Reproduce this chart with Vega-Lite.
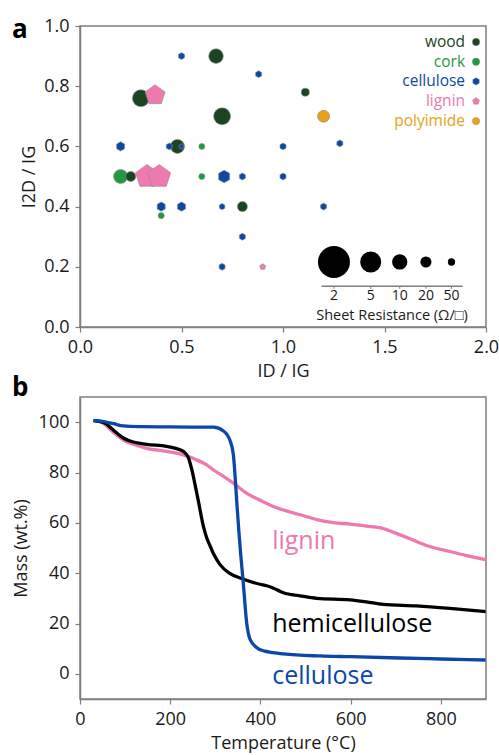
{
  "$schema": "https://vega.github.io/schema/vega-lite/v6.json",
  "background": "white",
  "padding": {"left": 11, "top": 16, "right": 0, "bottom": 0},
  "bounds": "flush",
  "spacing": 70,
  "resolve": {"scale": {"color": "independent", "x": "independent", "y": "independent"}},
  "config": {
    "font": "Open Sans",
    "view": {"stroke": "#7f7f7f", "strokeWidth": 1.5},
    "axis": {
      "grid": false,
      "domainColor": "#7f7f7f",
      "domainWidth": 1.5,
      "tickColor": "#7f7f7f",
      "tickWidth": 1.2,
      "tickSize": 5,
      "labelFontSize": 18,
      "titleFontSize": 18,
      "titleFontWeight": "normal",
      "labelColor": "#1a1a1a",
      "titleColor": "#1a1a1a",
      "labelPadding": 6,
      "labelFlush": false,
      "labelOverlap": false
    },
    "title": {
      "fontSize": 26,
      "fontWeight": "bold",
      "anchor": "start",
      "frame": "group",
      "offset": 0,
      "baseline": "alphabetic",
      "color": "#000000",
      "dx": -68
    }
  },
  "vconcat": [
    {
      "width": 406,
      "height": 301,
      "title": {"text": "a", "dy": 30},
      "layer": [
        {
          "data": {
            "values": [
              {"material": "cork", "ID_IG": 0.2, "I2D_IG": 0.5, "R": 12},
              {"material": "cork", "ID_IG": 0.6, "I2D_IG": 0.6, "R": 75},
              {"material": "cork", "ID_IG": 0.6, "I2D_IG": 0.5, "R": 75},
              {"material": "cork", "ID_IG": 0.4, "I2D_IG": 0.37, "R": 75},
              {"material": "wood", "ID_IG": 0.67, "I2D_IG": 0.9, "R": 11},
              {"material": "wood", "ID_IG": 0.3, "I2D_IG": 0.76, "R": 8},
              {"material": "wood", "ID_IG": 1.11, "I2D_IG": 0.78, "R": 40},
              {"material": "wood", "ID_IG": 0.7, "I2D_IG": 0.7, "R": 8},
              {"material": "wood", "ID_IG": 0.48, "I2D_IG": 0.6, "R": 12},
              {"material": "wood", "ID_IG": 0.25, "I2D_IG": 0.5, "R": 25},
              {"material": "wood", "ID_IG": 0.8, "I2D_IG": 0.4, "R": 25},
              {"material": "cellulose", "ID_IG": 0.5, "I2D_IG": 0.9, "R": 56},
              {"material": "cellulose", "ID_IG": 0.88, "I2D_IG": 0.84, "R": 56},
              {"material": "cellulose", "ID_IG": 0.2, "I2D_IG": 0.6, "R": 30},
              {"material": "cellulose", "ID_IG": 0.44, "I2D_IG": 0.6, "R": 56},
              {"material": "cellulose", "ID_IG": 0.5, "I2D_IG": 0.6, "R": 95},
              {"material": "cellulose", "ID_IG": 1.0, "I2D_IG": 0.6, "R": 56},
              {"material": "cellulose", "ID_IG": 1.28, "I2D_IG": 0.61, "R": 56},
              {"material": "cellulose", "ID_IG": 0.71, "I2D_IG": 0.5, "R": 15},
              {"material": "cellulose", "ID_IG": 0.8, "I2D_IG": 0.5, "R": 56},
              {"material": "cellulose", "ID_IG": 1.0, "I2D_IG": 0.5, "R": 56},
              {"material": "cellulose", "ID_IG": 0.4, "I2D_IG": 0.4, "R": 30},
              {"material": "cellulose", "ID_IG": 0.5, "I2D_IG": 0.4, "R": 30},
              {"material": "cellulose", "ID_IG": 0.7, "I2D_IG": 0.4, "R": 70},
              {"material": "cellulose", "ID_IG": 1.2, "I2D_IG": 0.4, "R": 56},
              {"material": "cellulose", "ID_IG": 0.8, "I2D_IG": 0.3, "R": 56},
              {"material": "cellulose", "ID_IG": 0.7, "I2D_IG": 0.2, "R": 56},
              {"material": "lignin", "ID_IG": 0.37, "I2D_IG": 0.77, "R": 5},
              {"material": "lignin", "ID_IG": 0.33, "I2D_IG": 0.5, "R": 3.7},
              {"material": "lignin", "ID_IG": 0.39, "I2D_IG": 0.5, "R": 3.7},
              {"material": "lignin", "ID_IG": 0.9, "I2D_IG": 0.2, "R": 68},
              {"material": "polyimide", "ID_IG": 1.2, "I2D_IG": 0.7, "R": 17}
            ]
          },
          "mark": {"type": "point", "filled": true, "opacity": 1, "stroke": "#8a8a8a", "strokeWidth": 0.6},
          "encoding": {
            "x": {
              "field": "ID_IG", "type": "quantitative",
              "scale": {"domain": [0, 2], "nice": false, "zero": false},
              "axis": {"title": "ID / IG", "values": [0, 0.5, 1, 1.5, 2], "format": ".1f", "titlePadding": 6}
            },
            "y": {
              "field": "I2D_IG", "type": "quantitative",
              "scale": {"domain": [0, 1], "nice": false, "zero": false},
              "axis": {"title": "I2D / IG", "values": [0, 0.2, 0.4, 0.6, 0.8, 1.0], "format": ".1f", "titlePadding": 5}
            },
            "size": {
              "field": "R", "type": "quantitative",
              "scale": {"type": "pow", "exponent": -0.92, "domain": [2, 50], "range": [1024, 53], "zero": false},
              "legend": null
            },
            "color": {
              "field": "material", "type": "nominal",
              "scale": {"domain": ["wood", "cork", "cellulose", "lignin", "polyimide"], "range": ["#1b4422", "#1f9a41", "#0b49a3", "#ef7ab0", "#e9a116"]},
              "legend": null
            },
            "shape": {
              "field": "material", "type": "nominal",
              "scale": {"domain": ["wood", "cork", "cellulose", "lignin", "polyimide"], "range": ["circle", "circle", "M0,-1L0.866,-0.5L0.866,0.5L0,1L-0.866,0.5L-0.866,-0.5Z", "M0,-1L0.951,-0.309L0.588,0.809L-0.588,0.809L-0.951,-0.309Z", "circle"]},
              "legend": null
            }
          }
        },
        {
          "data": {
            "values": [
              {"material": "wood", "lx": 1.951, "ly": 0.947},
              {"material": "cork", "lx": 1.951, "ly": 0.881},
              {"material": "cellulose", "lx": 1.951, "ly": 0.816},
              {"material": "lignin", "lx": 1.951, "ly": 0.75},
              {"material": "polyimide", "lx": 1.951, "ly": 0.684}
            ]
          },
          "layer": [
            {
              "mark": {"type": "text", "align": "right", "baseline": "middle", "fontSize": 15.5, "dx": -11},
              "encoding": {
                "x": {"field": "lx", "type": "quantitative"},
                "y": {"field": "ly", "type": "quantitative"},
                "text": {"field": "material"},
                "color": {"field": "material", "type": "nominal"}
              }
            },
            {
              "mark": {"type": "point", "filled": true, "opacity": 1, "size": 55, "stroke": "#8a8a8a", "strokeWidth": 0.4},
              "encoding": {
                "x": {"field": "lx", "type": "quantitative"},
                "y": {"field": "ly", "type": "quantitative"},
                "color": {"field": "material", "type": "nominal"},
                "shape": {"field": "material", "type": "nominal"}
              }
            }
          ]
        },
        {
          "data": {
            "values": [
              {"R": 2, "sx": 1.251},
              {"R": 5, "sx": 1.432},
              {"R": 10, "sx": 1.575},
              {"R": 20, "sx": 1.704},
              {"R": 50, "sx": 1.83}
            ]
          },
          "layer": [
            {
              "mark": {"type": "point", "filled": true, "opacity": 1, "shape": "circle", "color": "#000000"},
              "encoding": {
                "x": {"field": "sx", "type": "quantitative"},
                "y": {"datum": 0.216},
                "size": {"field": "R", "type": "quantitative"}
              }
            },
            {
              "mark": {"type": "rule", "color": "#7f7f7f", "strokeWidth": 1},
              "encoding": {
                "x": {"field": "sx", "type": "quantitative"},
                "y": {"datum": 0.135},
                "y2": {"datum": 0.127}
              }
            },
            {
              "mark": {"type": "text", "align": "center", "baseline": "middle", "fontSize": 14, "color": "#1a1a1a", "dy": 34},
              "encoding": {
                "x": {"field": "sx", "type": "quantitative"},
                "y": {"datum": 0.216},
                "text": {"field": "R"}
              }
            }
          ]
        },
        {
          "data": {"values": [{"title": "Sheet Resistance (Ω/□)"}]},
          "layer": [
            {
              "mark": {"type": "rule", "color": "#7f7f7f", "strokeWidth": 1.5},
              "encoding": {
                "x": {"datum": 1.19},
                "x2": {"datum": 1.885},
                "y": {"datum": 0.135}
              }
            },
            {
              "mark": {"type": "text", "align": "center", "baseline": "middle", "fontSize": 14.5, "color": "#1a1a1a"},
              "encoding": {
                "x": {"datum": 1.537},
                "y": {"datum": 0.037},
                "text": {"field": "title"}
              }
            }
          ]
        }
      ]
    },
    {
      "width": 406,
      "height": 302,
      "title": {"text": "b", "dy": 8},
      "layer": [
        {
          "data": {
            "values": [
              {"series": "lignin", "T": 30, "mass": 100.6},
              {"series": "lignin", "T": 45, "mass": 100.2},
              {"series": "lignin", "T": 59, "mass": 98.5},
              {"series": "lignin", "T": 74, "mass": 96},
              {"series": "lignin", "T": 89, "mass": 93.8},
              {"series": "lignin", "T": 100, "mass": 92.5},
              {"series": "lignin", "T": 118, "mass": 91.2},
              {"series": "lignin", "T": 148, "mass": 89.6},
              {"series": "lignin", "T": 192, "mass": 88.4},
              {"series": "lignin", "T": 229, "mass": 87},
              {"series": "lignin", "T": 259, "mass": 85},
              {"series": "lignin", "T": 281, "mass": 83},
              {"series": "lignin", "T": 296, "mass": 81},
              {"series": "lignin", "T": 318, "mass": 78.5},
              {"series": "lignin", "T": 340, "mass": 75.8},
              {"series": "lignin", "T": 369, "mass": 71.8},
              {"series": "lignin", "T": 399, "mass": 69},
              {"series": "lignin", "T": 436, "mass": 66},
              {"series": "lignin", "T": 488, "mass": 63.2},
              {"series": "lignin", "T": 525, "mass": 61.3},
              {"series": "lignin", "T": 562, "mass": 60.1},
              {"series": "lignin", "T": 599, "mass": 59.5},
              {"series": "lignin", "T": 635, "mass": 58.7},
              {"series": "lignin", "T": 665, "mass": 58.1},
              {"series": "lignin", "T": 694, "mass": 56.3},
              {"series": "lignin", "T": 731, "mass": 53.7},
              {"series": "lignin", "T": 768, "mass": 51},
              {"series": "lignin", "T": 820, "mass": 48.6},
              {"series": "lignin", "T": 857, "mass": 47},
              {"series": "lignin", "T": 899, "mass": 45.4},
              {"series": "hemicellulose", "T": 30, "mass": 100.6},
              {"series": "hemicellulose", "T": 45, "mass": 100.2},
              {"series": "hemicellulose", "T": 59, "mass": 99.2},
              {"series": "hemicellulose", "T": 70, "mass": 97.5},
              {"series": "hemicellulose", "T": 81, "mass": 95.8},
              {"series": "hemicellulose", "T": 96, "mass": 93.7},
              {"series": "hemicellulose", "T": 111, "mass": 92.5},
              {"series": "hemicellulose", "T": 148, "mass": 91.2},
              {"series": "hemicellulose", "T": 192, "mass": 90.4},
              {"series": "hemicellulose", "T": 214, "mass": 89.5},
              {"series": "hemicellulose", "T": 229, "mass": 88.4},
              {"series": "hemicellulose", "T": 240, "mass": 86},
              {"series": "hemicellulose", "T": 248, "mass": 81},
              {"series": "hemicellulose", "T": 255, "mass": 75.2},
              {"series": "hemicellulose", "T": 262, "mass": 69},
              {"series": "hemicellulose", "T": 273, "mass": 59},
              {"series": "hemicellulose", "T": 281, "mass": 54},
              {"series": "hemicellulose", "T": 288, "mass": 51},
              {"series": "hemicellulose", "T": 296, "mass": 47.7},
              {"series": "hemicellulose", "T": 310, "mass": 43.5},
              {"series": "hemicellulose", "T": 332, "mass": 39.9},
              {"series": "hemicellulose", "T": 361, "mass": 37.7},
              {"series": "hemicellulose", "T": 399, "mass": 35.6},
              {"series": "hemicellulose", "T": 414, "mass": 35},
              {"series": "hemicellulose", "T": 429, "mass": 34},
              {"series": "hemicellulose", "T": 443, "mass": 32.8},
              {"series": "hemicellulose", "T": 451, "mass": 32.2},
              {"series": "hemicellulose", "T": 488, "mass": 31},
              {"series": "hemicellulose", "T": 525, "mass": 30},
              {"series": "hemicellulose", "T": 599, "mass": 29.4},
              {"series": "hemicellulose", "T": 635, "mass": 28.6},
              {"series": "hemicellulose", "T": 672, "mass": 27.6},
              {"series": "hemicellulose", "T": 746, "mass": 27},
              {"series": "hemicellulose", "T": 820, "mass": 26},
              {"series": "hemicellulose", "T": 899, "mass": 24.7},
              {"series": "cellulose", "T": 30, "mass": 100.7},
              {"series": "cellulose", "T": 50, "mass": 100.3},
              {"series": "cellulose", "T": 74, "mass": 99.4},
              {"series": "cellulose", "T": 96, "mass": 98.5},
              {"series": "cellulose", "T": 130, "mass": 98.2},
              {"series": "cellulose", "T": 200, "mass": 98.1},
              {"series": "cellulose", "T": 296, "mass": 98},
              {"series": "cellulose", "T": 318, "mass": 96.5},
              {"series": "cellulose", "T": 333, "mass": 92.5},
              {"series": "cellulose", "T": 340, "mass": 87},
              {"series": "cellulose", "T": 344, "mass": 78},
              {"series": "cellulose", "T": 348, "mass": 67},
              {"series": "cellulose", "T": 352, "mass": 57},
              {"series": "cellulose", "T": 356, "mass": 48},
              {"series": "cellulose", "T": 362, "mass": 36},
              {"series": "cellulose", "T": 369, "mass": 21},
              {"series": "cellulose", "T": 377, "mass": 13.7},
              {"series": "cellulose", "T": 392, "mass": 10.4},
              {"series": "cellulose", "T": 410, "mass": 9},
              {"series": "cellulose", "T": 428, "mass": 8.4},
              {"series": "cellulose", "T": 451, "mass": 7.9},
              {"series": "cellulose", "T": 532, "mass": 7.1},
              {"series": "cellulose", "T": 600, "mass": 6.8},
              {"series": "cellulose", "T": 709, "mass": 6.3},
              {"series": "cellulose", "T": 800, "mass": 5.9},
              {"series": "cellulose", "T": 899, "mass": 5.5}
            ]
          },
          "mark": {"type": "line", "interpolate": "monotone", "strokeWidth": 3.3},
          "encoding": {
            "x": {
              "field": "T", "type": "quantitative",
              "scale": {"domain": [0, 900], "nice": false, "zero": false},
              "axis": {"title": "Temperature (°C)", "values": [0, 200, 400, 600, 800], "titlePadding": 6}
            },
            "y": {
              "field": "mass", "type": "quantitative",
              "scale": {"domain": [-10, 110], "nice": false, "zero": false},
              "axis": {"title": "Mass (wt.%)", "values": [0, 20, 40, 60, 80, 100], "titlePadding": 8}
            },
            "color": {
              "field": "series", "type": "nominal",
              "scale": {"domain": ["lignin", "hemicellulose", "cellulose"], "range": ["#ee78b0", "#000000", "#0a47a8"]},
              "legend": null
            }
          }
        },
        {
          "data": {
            "values": [
              {"series": "lignin", "T": 426, "mass": 49.7},
              {"series": "hemicellulose", "T": 426, "mass": 16.6},
              {"series": "cellulose", "T": 426, "mass": -4.2}
            ]
          },
          "mark": {"type": "text", "align": "left", "baseline": "alphabetic", "fontSize": 25},
          "encoding": {
            "x": {"field": "T", "type": "quantitative"},
            "y": {"field": "mass", "type": "quantitative"},
            "text": {"field": "series"},
            "color": {"field": "series", "type": "nominal"}
          }
        }
      ]
    }
  ]
}
